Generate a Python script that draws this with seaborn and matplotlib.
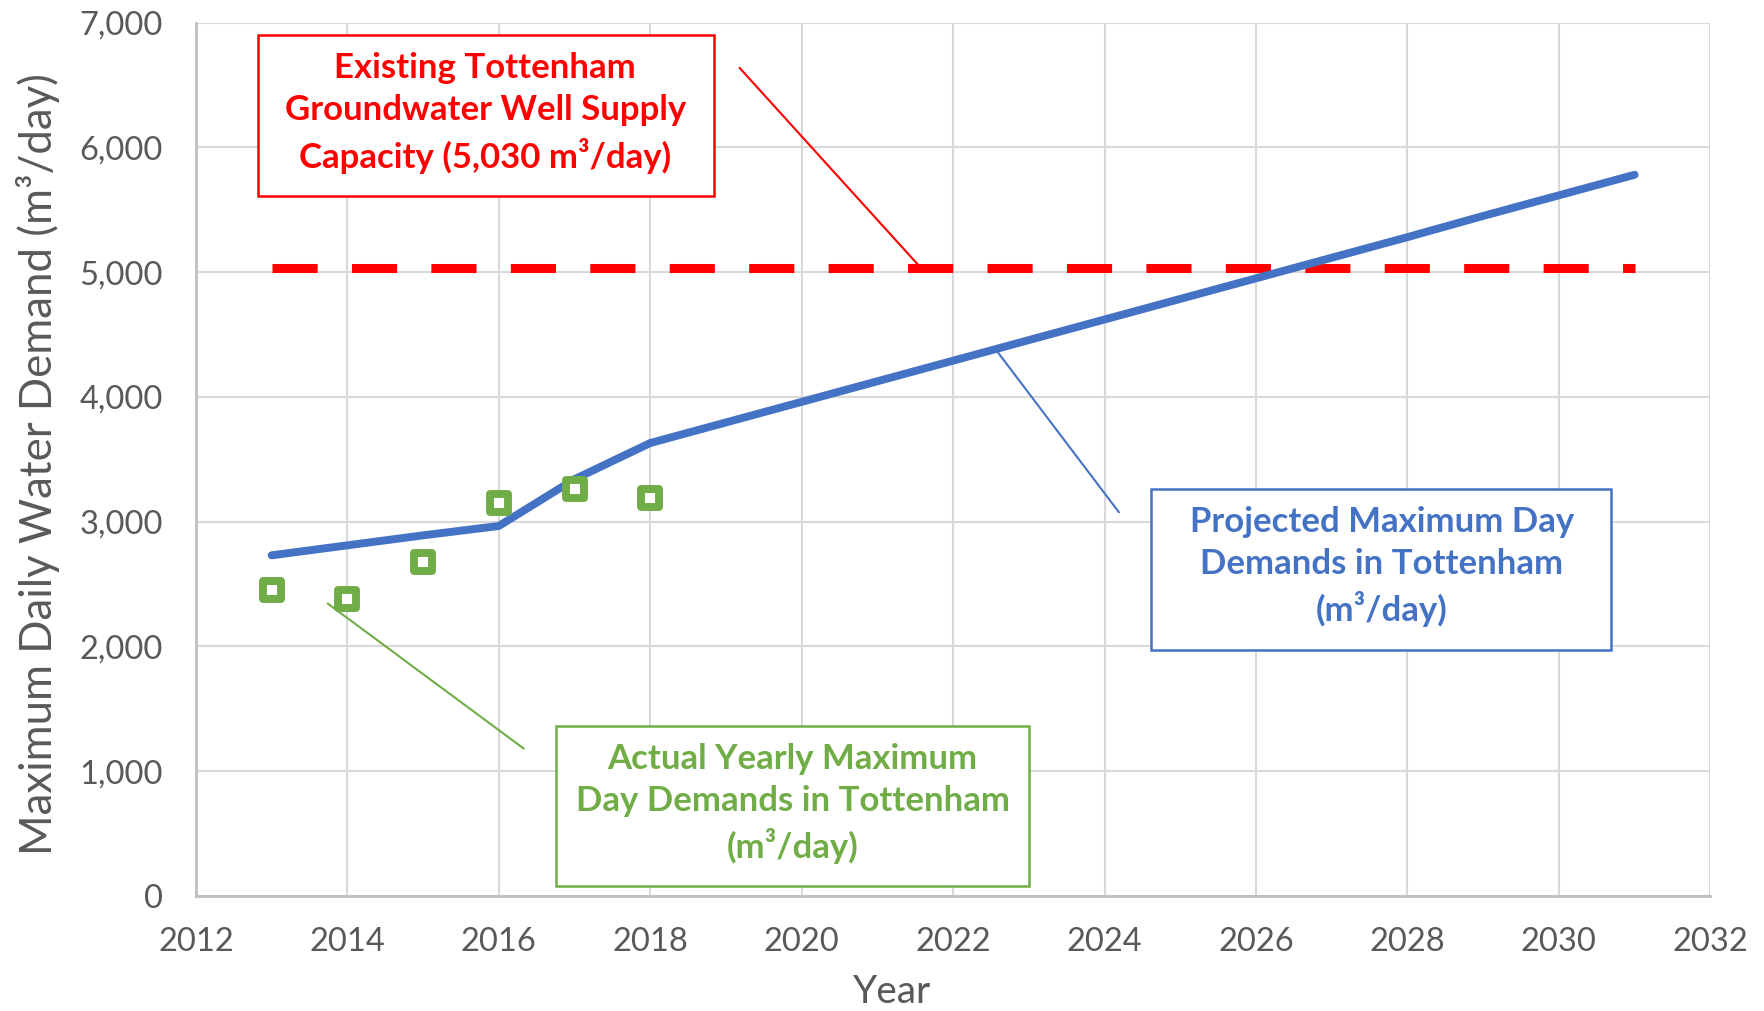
import matplotlib.pyplot as plt
import seaborn as sns
import pandas as pd
from matplotlib.patches import Rectangle
from matplotlib.markers import MarkerStyle
from matplotlib.ticker import FuncFormatter

# Projected maximum day demand (m3/day)
proj_years = list(range(2013, 2032))
proj_values = [2730, 2810, 2890, 2965, 3340, 3630, 3795, 3960, 4125, 4290,
               4455, 4620, 4785, 4950, 5115, 5280, 5450, 5615, 5780]

# Actual yearly maximum day demand (m3/day)
actual_years = [2013, 2014, 2015, 2016, 2017, 2018]
actual_values = [2453, 2381, 2678, 3147, 3264, 3192]

# Existing well supply capacity
cap_years = [2013, 2031]
cap_values = [5030, 5030]

x_ticks = list(range(2012, 2033, 2))
y_ticks = list(range(0, 7001, 1000))

RED = '#FF0000'
BLUE = '#4472C4'
GREEN = '#70AD47'
GREY = '#595959'

sns.set_theme(style='white')
plt.rcParams['font.family'] = ['Lato', 'DejaVu Sans']

fig = plt.figure(figsize=(17.65, 10.11), dpi=100)
ax = fig.add_axes([0.111, 0.1138, 0.858, 0.8639])

proj_df = pd.DataFrame({'Year': proj_years, 'Demand': proj_values})
actual_df = pd.DataFrame({'Year': actual_years, 'Demand': actual_values})
cap_df = pd.DataFrame({'Year': cap_years, 'Demand': cap_values})

sns.lineplot(data=cap_df, x='Year', y='Demand', ax=ax, color=RED, linewidth=6.5,
             linestyle=(0, (5, 3.8)), dash_capstyle='butt', zorder=3)
sns.lineplot(data=proj_df, x='Year', y='Demand', ax=ax, color=BLUE, linewidth=5.7,
             solid_capstyle='round', zorder=4)
sns.scatterplot(data=actual_df, x='Year', y='Demand', ax=ax,
                marker=MarkerStyle('s', joinstyle='round'), s=13 ** 2,
                facecolor='white', edgecolor=GREEN, linewidth=5.7, zorder=5)

ax.set_xlim(2012, 2032)
ax.set_ylim(0, 7000)
ax.set_xticks(x_ticks)
ax.set_yticks(y_ticks)
ax.yaxis.set_major_formatter(FuncFormatter(lambda v, p: f'{int(v):,}'))
ax.grid(True, color='#D9D9D9', linewidth=1.5)
ax.set_axisbelow(True)
ax.tick_params(axis='both', length=0, labelsize=23.5, labelcolor=GREY)
ax.tick_params(axis='y', pad=24)
ax.tick_params(axis='x', pad=22)
for side in ['top', 'right']:
    ax.spines[side].set_visible(False)
for side in ['left', 'bottom']:
    ax.spines[side].set_color('#BFBFBF')
    ax.spines[side].set_linewidth(2)

ax.set_xlabel('Year', fontsize=28, color=GREY, va='center')
ax.set_ylabel('Maximum Daily Water Demand (m³/day)', fontsize=31.5, color=GREY,
              va='center')
ax.yaxis.set_label_coords(-0.104, 0.495)
ax.xaxis.set_label_coords(0.46, -0.11)

# Callout boxes
boxes = [
    ((2012.82, 5609), 6.02, 1289, RED, (2015.82, 6276),
     'Existing Tottenham\nGroundwater Well Supply\nCapacity (5,030 m³/day)'),
    ((2024.61, 1975), 6.08, 1289, BLUE, (2027.66, 2642),
     'Projected Maximum Day\nDemands in Tottenham\n(m³/day)'),
    ((2016.76, 81), 6.24, 1281, GREEN, (2019.88, 739),
     'Actual Yearly Maximum\nDay Demands in Tottenham\n(m³/day)'),
]
for xy, w, h, col, txy, label in boxes:
    ax.add_patch(Rectangle(xy, w, h, facecolor='white', edgecolor=col,
                           linewidth=1.8, zorder=6))
    ax.text(txy[0], txy[1], label, color=col, fontsize=25, fontweight='bold',
            ha='center', va='center', linespacing=1.38, zorder=7)

# Leader lines
ax.plot([2019.18, 2021.58], [6637, 5030], color=RED, linewidth=1.5, zorder=6)
ax.plot([2022.56, 2024.19], [4382, 3075], color=BLUE, linewidth=1.5, zorder=6)
ax.plot([2013.74, 2016.33], [2344, 1181], color=GREEN, linewidth=1.5, zorder=6)

fig.savefig('out.png', dpi=100)
